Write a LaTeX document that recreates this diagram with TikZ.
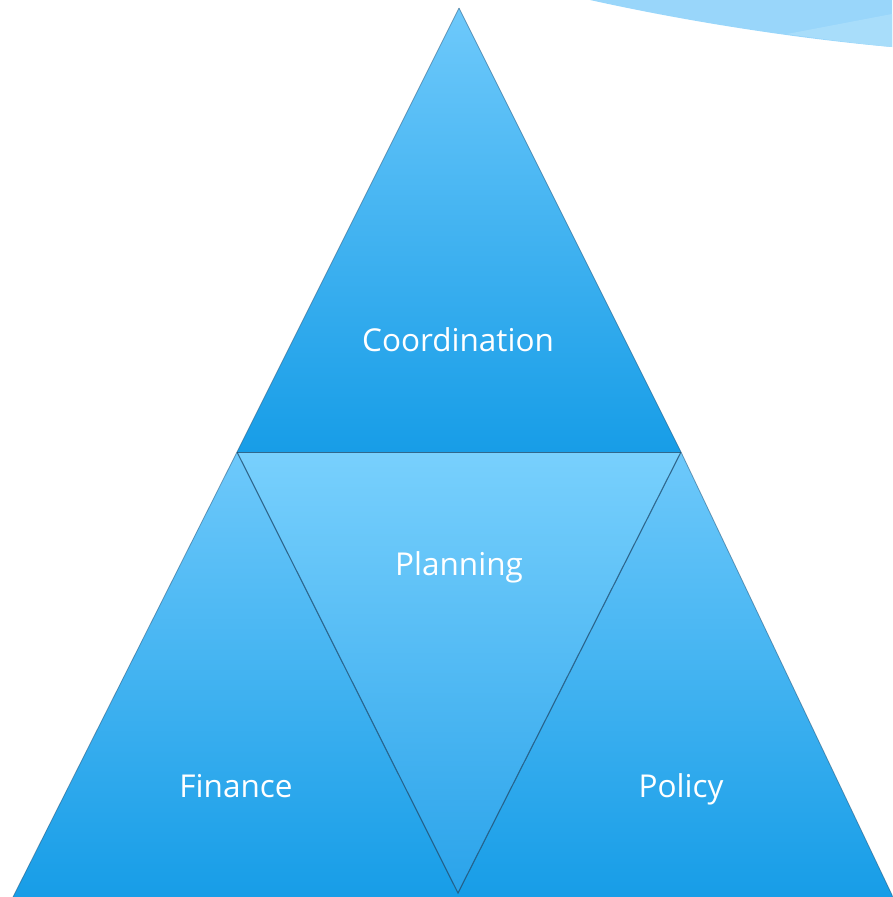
\documentclass[tikz,border=0pt]{standalone}
\usepackage{fontspec}
\setmainfont{Open Sans}
\begin{document}
\begin{tikzpicture}[x=1pt,y=-1pt,
  lbl/.style={text=white,font=\fontsize{31.5}{36}\selectfont,inner sep=0pt,anchor=base},
  edge/.style={draw=edgecol,line width=0.8pt}]
\definecolor{toptri}{HTML}{6EC9FB}
\definecolor{bottri}{HTML}{179DE7}
\definecolor{midtop}{HTML}{78D0FD}
\definecolor{midbot}{HTML}{2AA3EA}
\definecolor{edgecol}{HTML}{1E4E72}
\definecolor{swooshA}{HTML}{99D6FA}
\definecolor{swooshB}{HTML}{A8DDFA}
\useasboundingbox (0,0) rectangle (892,897);
% swoosh
\fill[swooshA] (590,0) .. controls (680,20) and (790,38) .. (892,47) -- (892,0) -- cycle;
\fill[swooshB] (787,34) .. controls (830,40) and (860,44) .. (892,47) -- (892,14) -- cycle;
% coordinates
\coordinate (A) at (459,8);
\coordinate (L) at (237,452);
\coordinate (R) at (681,452);
\coordinate (M) at (458,893);
\coordinate (BL) at (13,897);
\coordinate (BR) at (893,897);
% left and right triangles
\shade[top color=toptri,bottom color=bottri] (L) -- (BL) -- (458,897) -- (M) -- cycle;
\shade[top color=toptri,bottom color=bottri] (R) -- (M) -- (458,897) -- (BR) -- cycle;
% top triangle
\shade[top color=toptri,bottom color=bottri] (A) -- (L) -- (R) -- cycle;
% middle inverted triangle
\shade[top color=midtop,bottom color=midbot] (L) -- (R) -- (M) -- cycle;
% edges
\draw[edge,draw opacity=0.5] (A) -- (L) -- (BL);
\draw[edge,draw opacity=0.5] (A) -- (R) -- (BR);
\draw[edge,draw opacity=0.8] (L) -- (R);
\draw[edge,line width=1.1pt,draw opacity=0.8] (L) -- (M) -- (R);
% labels
\node[lbl] (coord) at (458,351) {Coordination};
\node[lbl] (plan) at (459,575) {Planning};
\node[lbl] (fin) at (236,797) {Finance};
\node[lbl] (pol) at (681,797) {Policy};
\end{tikzpicture}
\end{document}
